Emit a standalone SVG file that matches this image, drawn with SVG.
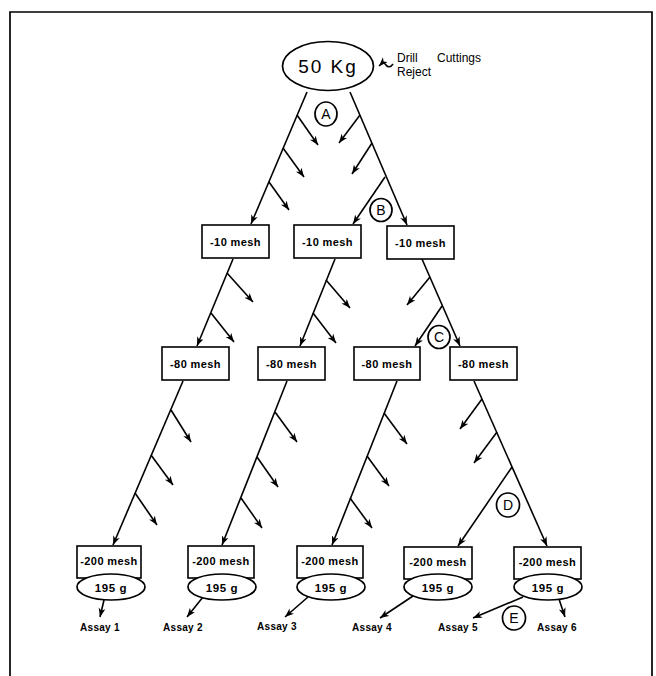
<svg xmlns="http://www.w3.org/2000/svg" width="656" height="676" viewBox="0 0 656 676">
<defs>
<marker id="ah" markerUnits="userSpaceOnUse" markerWidth="10" markerHeight="8" refX="9" refY="3.5" orient="auto">
<path d="M0,0 L9,3.5 L0,7 L2.5,3.5 z" fill="#000"/>
</marker>
</defs>
<style>
.ln{stroke:#000;stroke-width:1.7;fill:none}
.ar{stroke:#000;stroke-width:1.6;fill:none;marker-end:url(#ah)}
.bx{fill:#fff;stroke:#000;stroke-width:1.6}
.el{fill:#fff;stroke:#000;stroke-width:1.7}
.t{font-family:"Liberation Sans",Arial,sans-serif;font-weight:bold;fill:#000;text-anchor:middle}
.m{font-size:11px;letter-spacing:0.4px}
.g{font-size:11.5px;letter-spacing:0.6px}
.a{font-size:10px;font-weight:bold;font-family:"Liberation Sans",Arial,sans-serif;fill:#000;letter-spacing:0.3px}
.c{font-family:"Liberation Sans",Arial,sans-serif;font-size:14px;fill:#000;text-anchor:middle}
.lab{font-family:"Liberation Sans",Arial,sans-serif;font-size:12px;fill:#000}
</style>
<rect width="656" height="676" fill="#fff"/>
<path class="ln" d="M10,676 V12 H652 V676"/>

<g id="connectors">
<path class="ar" d="M307,92 L251,224"/>
<path class="ar" d="M350,92 L407,225"/>
<path class="ar" d="M385,177 L353,224"/>
<path class="ar" d="M297,115 L318,145"/>
<path class="ar" d="M283,148 L304,177"/>
<path class="ar" d="M269,182 L289,210"/>
<path class="ar" d="M360,115 L339,143"/>
<path class="ar" d="M372,143 L352,174"/>
<path class="ar" d="M233,259 L197,346"/>
<path class="ar" d="M227,273 L253,302"/>
<path class="ar" d="M211,313 L234,342"/>
<path class="ar" d="M335,259 L300,346"/>
<path class="ar" d="M326,280 L350,308"/>
<path class="ar" d="M313,313 L336,343"/>
<path class="ar" d="M422,259 L460,346"/>
<path class="ar" d="M430,277 L407,305"/>
<path class="ar" d="M442,306 L415,346"/>
<path class="ar" d="M183,381 L113,545"/>
<path class="ar" d="M171,410 L191,442"/>
<path class="ar" d="M151,455 L173,485"/>
<path class="ar" d="M135,493 L157,525"/>
<path class="ar" d="M287,381 L222,545"/>
<path class="ar" d="M275,412 L297,442"/>
<path class="ar" d="M257,457 L278,487"/>
<path class="ar" d="M241,498 L262,528"/>
<path class="ar" d="M397,381 L332,545"/>
<path class="ar" d="M384,413 L407,444"/>
<path class="ar" d="M367,456 L389,486"/>
<path class="ar" d="M350,498 L372,528"/>
<path class="ar" d="M474,381 L547,546"/>
<path class="ar" d="M482,399 L460,429"/>
<path class="ar" d="M497,432 L474,463"/>
<path class="ar" d="M512,467 L458,546"/>
<path class="ar" d="M104,600 L100,617"/>
<path class="ar" d="M203,597 L187,617"/>
<path class="ar" d="M308,597 L285,617"/>
<path class="ar" d="M413,596 L380,618"/>
<path class="ar" d="M523,597 L473,618"/>
<path class="ar" d="M559,599 L565,617"/>
<path class="ar" d="M393,64 c-2,3 -5,4 -7,1 s-4,-2 -7,1"/>
</g>

<g id="top">
<ellipse class="el" cx="328" cy="66" rx="45.5" ry="24.5"/>
<text class="t" x="328" y="73" style="font-size:19px;font-weight:normal;letter-spacing:2px">50 Kg</text>
</g>
<g id="reject-label">
<text class="lab" x="397" y="62">Drill</text>
<text class="lab" x="437" y="62">Cuttings</text>
<text class="lab" x="397" y="76">Reject</text>
</g>

<g id="m10-1"><rect class="bx" x="202" y="225" width="67" height="33"/><text class="t m" x="235.5" y="245.5">-10 mesh</text></g>
<g id="m10-2"><rect class="bx" x="294" y="225" width="67" height="33"/><text class="t m" x="327.5" y="245.5">-10 mesh</text></g>
<g id="m10-3"><rect class="bx" x="387" y="226" width="67" height="33"/><text class="t m" x="420.5" y="246.5">-10 mesh</text></g>

<g id="m80-1"><rect class="bx" x="162" y="347" width="67" height="33"/><text class="t m" x="195.5" y="367.5">-80 mesh</text></g>
<g id="m80-2"><rect class="bx" x="258" y="347" width="67" height="33"/><text class="t m" x="291.5" y="367.5">-80 mesh</text></g>
<g id="m80-3"><rect class="bx" x="354" y="347" width="66" height="33"/><text class="t m" x="387" y="367.5">-80 mesh</text></g>
<g id="m80-4"><rect class="bx" x="450" y="347" width="67" height="33"/><text class="t m" x="483.5" y="367.5">-80 mesh</text></g>

<g id="s1"><rect class="bx" x="77" y="546" width="64" height="32"/><text class="t m" x="109" y="565">-200 mesh</text><ellipse class="el" cx="111" cy="587" rx="34" ry="13"/><text class="t g" x="111" y="591.5">195 g</text></g>
<g id="s2"><rect class="bx" x="188" y="546" width="66" height="32"/><text class="t m" x="221" y="565">-200 mesh</text><ellipse class="el" cx="222" cy="587" rx="34" ry="13"/><text class="t g" x="222" y="591.5">195 g</text></g>
<g id="s3"><rect class="bx" x="297" y="546" width="66" height="32"/><text class="t m" x="330" y="565">-200 mesh</text><ellipse class="el" cx="331" cy="587" rx="34" ry="13"/><text class="t g" x="331" y="591.5">195 g</text></g>
<g id="s4"><rect class="bx" x="404" y="547" width="68" height="32"/><text class="t m" x="438" y="566">-200 mesh</text><ellipse class="el" cx="438" cy="587" rx="34" ry="13"/><text class="t g" x="438" y="591.5">195 g</text></g>
<g id="s5"><rect class="bx" x="514" y="547" width="67" height="32"/><text class="t m" x="547.5" y="566">-200 mesh</text><ellipse class="el" cx="548" cy="587" rx="34" ry="13"/><text class="t g" x="548" y="591.5">195 g</text></g>

<g id="assays">
<text class="a" x="80" y="631">Assay 1</text>
<text class="a" x="163" y="631">Assay 2</text>
<text class="a" x="257" y="630">Assay 3</text>
<text class="a" x="352" y="631">Assay 4</text>
<text class="a" x="438" y="631">Assay 5</text>
<text class="a" x="537" y="631">Assay 6</text>
</g>

<g id="circle-A"><ellipse class="el" cx="326" cy="114" rx="11" ry="12"/><text class="c" x="326" y="119">A</text></g>
<g id="circle-B"><ellipse class="el" cx="381" cy="210" rx="11" ry="11.5"/><text class="c" x="381" y="215">B</text></g>
<g id="circle-C"><ellipse class="el" cx="439" cy="337" rx="11" ry="11.5"/><text class="c" x="439" y="342">C</text></g>
<g id="circle-D"><ellipse class="el" cx="508" cy="505" rx="11.5" ry="12"/><text class="c" x="508" y="510">D</text></g>
<g id="circle-E"><ellipse class="el" cx="514" cy="618" rx="11.5" ry="12"/><text class="c" x="514" y="623">E</text></g>
</svg>
